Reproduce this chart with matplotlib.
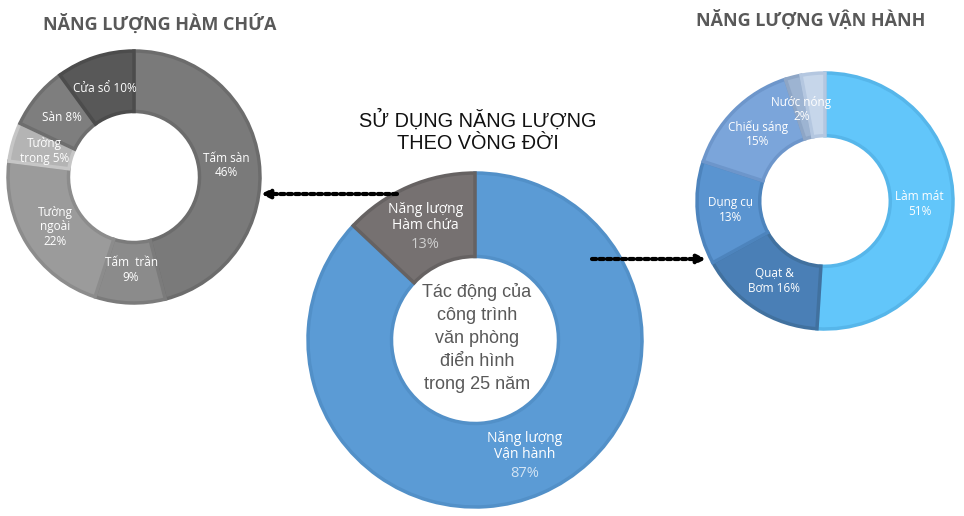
import math
import matplotlib.pyplot as plt

# --- data ---
ham_chua_ten = ["Tấm sàn\n", "Tấm  trần\n", "Tường\nngoài\n", "Tường\ntrong ", "Sàn ", "Cửa sổ "]
ham_chua_pct = [46, 9, 22, 5, 8, 10]

van_hanh_ten = ["Làm mát\n", "Quạt &\nBơm ", "Dụng cụ\n", "Chiếu sáng\n", "Nước nóng\n", ""]
van_hanh_pct = [51, 16, 13, 15, 2, 3]

vong_doi_ten = ["Năng lượng\nVận hành", "Năng lượng\nHàm chứa"]
vong_doi_pct = [87, 13]

W, H = 964, 516

mau_ham_chua = ["#7a7a7a", "#8b8b8b", "#9b9b9b", "#b4b4b4", "#7e7e7e", "#585858"]
vien_ham_chua = ["#6c6c6c", "#7b7b7b", "#8c8c8c", "#c6c6c6", "#6e6e6e", "#4c4c4c"]
mau_van_hanh = ["#62c6fa", "#4a7fb6", "#5a94d0", "#7ba5da", "#9db4d2", "#c6d6ea"]
vien_van_hanh = ["#56b6ea", "#41719f", "#4d84bd", "#6d96cb", "#8ea6c6", "#b4c7e0"]

FONT_NHAN = "Open Sans"


def ve_donut(ax, gia_tri, nhan, mau, vien, cx, cy, r, rong, co_chu=8.5):
    wedges, _ = ax.pie(
        gia_tri,
        colors=mau,
        startangle=90,
        counterclock=False,
        center=(cx, H - cy),
        radius=r,
        wedgeprops=dict(width=r * rong, linewidth=2.5),
    )
    for w, c in zip(wedges, vien):
        w.set_edgecolor(c)
    # nhan o giua vong
    tong = sum(gia_tri)
    goc = 0
    for v, n in zip(gia_tri, nhan):
        giua = goc + v / 2
        goc += v
        if not n:
            continue
        a = math.radians(90 - giua / tong * 360)
        rr = r * 0.74
        ax.text(cx + rr * math.cos(a), H - cy + rr * math.sin(a), f"{n}{v}%",
                ha="center", va="center", color="white", fontsize=co_chu,
                family=FONT_NHAN, linespacing=1.15)
    return wedges


fig = plt.figure(figsize=(W / 100, H / 100), dpi=100)
ax = fig.add_axes([0, 0, 1, 1])

ve_donut(ax, ham_chua_pct, ham_chua_ten, mau_ham_chua, vien_ham_chua, 134, 177, 126, 0.48)
ve_donut(ax, van_hanh_pct, van_hanh_ten, mau_van_hanh, vien_van_hanh, 825, 201, 128, 0.49)

# vong giua
wedges, _ = ax.pie(
    vong_doi_pct,
    colors=["#5b9bd5", "#767171"],
    startangle=90,
    counterclock=False,
    center=(475, H - 340),
    radius=167,
    wedgeprops=dict(width=167 * 0.5, linewidth=2.5),
)
wedges[0].set_edgecolor("#5290c8")
wedges[1].set_edgecolor("#666262")
mau_pct = ["#d3e4f4", "#cfcfcf"]
goc = 0
for v, n, mp in zip(vong_doi_pct, vong_doi_ten, mau_pct):
    giua = goc + v / 2
    goc += v
    a = math.radians(90 - giua / 100 * 360)
    x = 475 + 125 * math.cos(a)
    y = H - 340 + 125 * math.sin(a)
    ax.text(x, y + 8, n, ha="center", va="center", color="white",
            fontsize=10, family=FONT_NHAN, linespacing=1.1)
    ax.text(x, y - 19, f"{v}%", ha="center", va="center", color=mp,
            fontsize=10.5, family=FONT_NHAN)

ax.set_xlim(0, W)
ax.set_ylim(0, H)
ax.set_aspect("equal")
ax.axis("off")

# tieu de
ax.text(160, H - 24, "NĂNG LƯỢNG HÀM CHỨA", ha="center", va="center",
        fontsize=13, fontweight="bold", color="#595959", family=FONT_NHAN)
ax.text(811, H - 20, "NĂNG LƯỢNG VẬN HÀNH", ha="center", va="center",
        fontsize=13, fontweight="bold", color="#595959", family=FONT_NHAN)
ax.text(478, H - 131, "SỬ DỤNG NĂNG LƯỢNG\nTHEO VÒNG ĐỜI", ha="center", va="center",
        fontsize=14.3, color="#111111", family="Liberation Sans", linespacing=1.25)
ax.text(477, H - 338, "Tác động của\ncông trình\nvăn phòng\nđiển hình\ntrong 25 năm",
        ha="center", va="center", fontsize=13, color="#595959",
        family="Liberation Sans", linespacing=1.45)

# mui ten cham
ax.annotate("", xy=(261, H - 194), xytext=(397, H - 194),
            arrowprops=dict(arrowstyle="-|>", linestyle=(0, (1, 0.8)), lw=3,
                            color="black", shrinkA=0, shrinkB=0, mutation_scale=12))
ax.annotate("", xy=(706, H - 259), xytext=(592, H - 259),
            arrowprops=dict(arrowstyle="-|>", linestyle=(0, (1, 0.8)), lw=3,
                            color="black", shrinkA=0, shrinkB=0, mutation_scale=12))

fig.savefig("out.png", dpi=100)
